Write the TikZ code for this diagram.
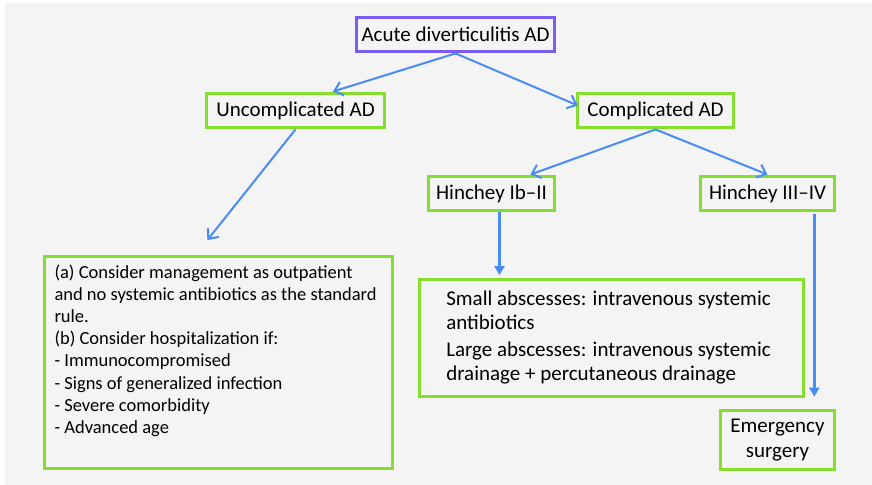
\documentclass[tikz,border=0pt]{standalone}
\usepackage{fontspec}
\setmainfont{Carlito}
\usetikzlibrary{arrows.meta}
\definecolor{bg}{HTML}{F4F4F4}
\definecolor{gline}{HTML}{86DE2E}
\definecolor{pline}{HTML}{7B5BF0}
\definecolor{bline}{HTML}{4A8CF5}
\tikzset{
  gbox/.style={draw=gline, line width=3bp, fill=bg, inner sep=0pt, align=center, font=\fontsize{21bp}{25bp}\selectfont},
  pbox/.style={gbox, draw=pline},
  thin arr/.style={draw=bline, line width=2bp, -{Straight Barb[length=8bp,width=14bp,line width=2bp]}},
  thick arr/.style={draw=bline, line width=3.5bp, -{Triangle[length=9bp,width=10bp]}},
}
\begin{document}
\begin{tikzpicture}[x=1bp,y=-1bp]
\useasboundingbox (0,0) rectangle (872,485);
\fill[white] (0,0) rectangle (872,485);
\fill[bg] (5,3) rectangle (872,485);

\node[pbox, minimum width=199, minimum height=35] (acute) at (455.5,34.5) {Acute diverticulitis AD};
\node[gbox, minimum width=179, minimum height=35] (uncomp) at (295.5,110.5) {Uncomplicated AD};
\node[gbox, minimum width=157, minimum height=35] (comp) at (655.5,110.5) {Complicated AD};
\node[gbox, minimum width=127, minimum height=35] (hib) at (491.5,193.5) {Hinchey Ib–II};
\node[gbox, minimum width=135, minimum height=35] (hiii) at (767.5,193.5) {Hinchey III–IV};

\node[gbox, anchor=north west, minimum width=348, minimum height=212, inner xsep=10bp, align=left,
      font=\fontsize{18.5bp}{22.2bp}\selectfont] (left) at (43,255)
  {\parbox[t][212bp][t]{328bp}{\vspace{8bp}(a) Consider management as outpatient\\
   and no systemic antibiotics as the standard\\
   rule.\\
   (b) Consider hospitalization if:\\
   - Immunocompromised\\
   - Signs of generalized infection\\
   - Severe comorbidity\\
   - Advanced age}};

\node[gbox, anchor=north west, minimum width=385, minimum height=117, align=left,
      font=\fontsize{21bp}{24bp}\selectfont] (mid) at (418,278)
  {\parbox{330bp}{Small abscesses: intravenous systemic\\
   antibiotics\\[3bp]
   Large abscesses: intravenous systemic\\
   drainage + percutaneous drainage}};

\node[gbox, minimum width=115, minimum height=60] (emerg) at (777.5,440) {Emergency\\surgery};

\coordinate (ltip) at ([xshift=165,yshift=15]left.north west);
\coordinate (hstart) at ([xshift=47,yshift=-2]hiii.south);
\coordinate (etip) at ([yshift=12]hstart |- emerg.north);

\draw[thin arr] (acute.south) -- ([xshift=37.5]uncomp.north);
\draw[thin arr] (acute.south) -- ([xshift=2,yshift=-14]comp.north west);
\draw[thin arr] (uncomp.south) -- (ltip);
\draw[thin arr] (comp.south) -- ([xshift=39]hib.north);
\draw[thin arr] (comp.south) -- (hiii.north);
\draw[thick arr] ([xshift=8]hib.south) -- ([xshift=8,yshift=3]hib.south |- mid.north);
\draw[thick arr] (hstart) -- (etip);
\end{tikzpicture}
\end{document}
